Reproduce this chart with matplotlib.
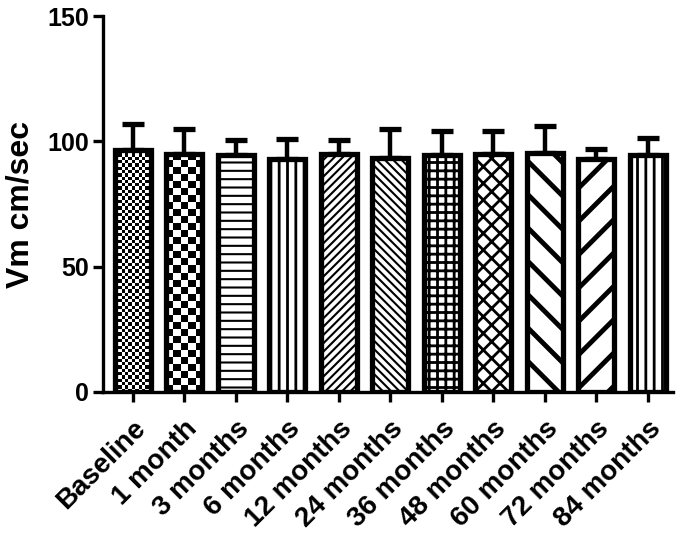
import numpy as np
import matplotlib
matplotlib.use("Agg")
import matplotlib.pyplot as plt

# Data
labels = ["Baseline", "1 month", "3 months", "6 months", "12 months", "24 months",
          "36 months", "48 months", "60 months", "72 months", "84 months"]
means = [96.5, 95, 94.5, 93, 95, 93.5, 94.5, 95, 95.5, 93, 94.5]
sd = [10.5, 10, 6, 8, 5.5, 11.5, 9.5, 9, 10.5, 4, 7]
hatches = ["check_s", "check_l", "--", "||", "////", "\\\\\\\\", "++", "xx", "\\", "/", "||"]
hatch_lw = [1.5, 1.5, 1.5, 2, 1.5, 1.5, 2, 2, 3.5, 3.5, 2]

plt.rcParams["font.family"] = ["Liberation Sans", "DejaVu Sans"]
plt.rcParams["font.weight"] = "bold"

fig = plt.figure(figsize=(6.8, 5.38), dpi=100)
ax = fig.add_axes([0.1515, 0.2714, 0.838, 0.6986])

x = np.arange(len(labels))
bars = ax.bar(x, means, width=0.7, facecolor="white", edgecolor="none", zorder=2)

# patterns
for b, h, lw in zip(bars, hatches, hatch_lw):
    if h.startswith("check"):
        cell = 3.3 if h == "check_s" else 7.0  # pixels
        wpx = b.get_width() * 51.5
        hpx = b.get_height() * 2.5
        nx = int(round(wpx / cell))
        ny = int(round(hpx / cell))
        img = (np.add.outer(np.arange(ny), np.arange(nx)) % 2).astype(float)
        im = ax.imshow(img, cmap="gray", vmin=0, vmax=1, interpolation="nearest",
                       extent=(b.get_x(), b.get_x() + b.get_width(), 0, b.get_height()),
                       aspect="auto", origin="lower", zorder=2.5)
        im.set_clip_path(b)
    else:
        b.set_hatch(h)
        b.set_edgecolor("black")
        if hasattr(b, "set_hatch_linewidth"):
            b.set_hatch_linewidth(lw)
        b.set_linewidth(0)

# outlines on top
ax.bar(x, means, width=0.7, facecolor="none", edgecolor="black", linewidth=3.8, zorder=3)

# upward error bars
ax.errorbar(x, means, yerr=[np.zeros(len(sd)), sd], fmt="none", ecolor="black",
            elinewidth=3.2, capsize=8, capthick=3.8, zorder=1.5)

ax.set_xlim(-0.58, 10.49)
ax.set_ylim(0, 150)
ax.set_yticks([0, 50, 100, 150])
ax.set_xticks(x)
ax.set_xticklabels(labels, rotation=45, ha="right", va="top", rotation_mode="anchor",
                   fontsize=20, fontweight="bold")
for t in ax.get_yticklabels():
    t.set_fontsize(18)
    t.set_fontweight("bold")

for s in ["top", "right"]:
    ax.spines[s].set_visible(False)
for s in ["left", "bottom"]:
    ax.spines[s].set_linewidth(2.4)
ax.tick_params(direction="out", length=7, width=2.4, pad=3)
ax.tick_params(axis="x", pad=10)

ax.set_ylabel("Vm cm/sec", fontsize=23, fontweight="bold")
ax.yaxis.set_label_coords(-0.119, 0.5)

fig.savefig("out.png", dpi=100)
